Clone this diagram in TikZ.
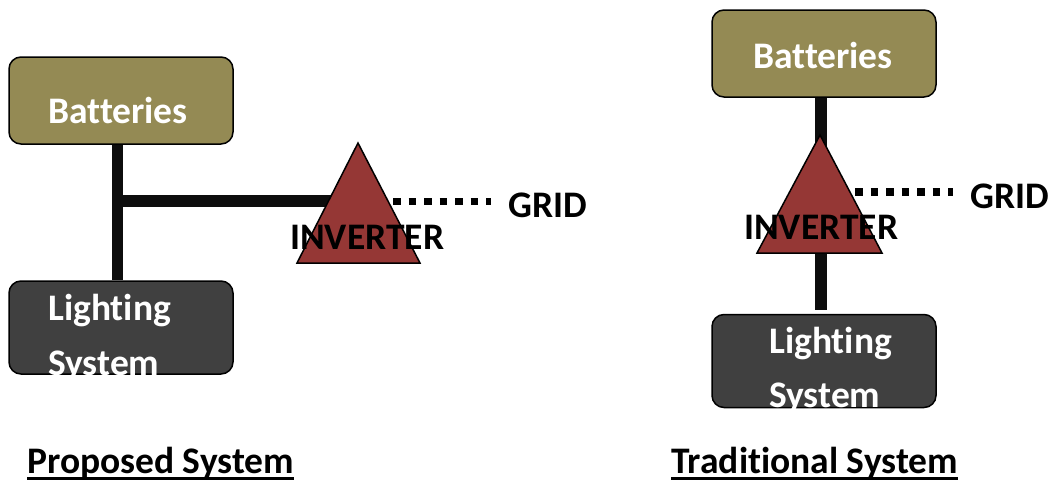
\documentclass[tikz,border=0pt]{standalone}
\usepackage{fontspec}
\setmainfont{Carlito}[Ligatures=NoCommon]
\definecolor{olivefill}{HTML}{948A54}
\definecolor{darkfill}{HTML}{404040}
\definecolor{invfill}{HTML}{953735}
\definecolor{busblack}{HTML}{0D0D0D}
\begin{document}
\begin{tikzpicture}[x=1pt,y=-1pt,
  box/.style={draw=black, line width=1.5pt, rounded corners=12pt, minimum width=224pt, inner sep=0pt},
  battbox/.style={box, fill=olivefill, minimum height=87pt},
  lightbox/.style={box, fill=darkfill, minimum height=93pt},
  wtxt/.style={text=white, font=\fontsize{37.5}{42}\selectfont\bfseries, inner sep=0pt, anchor=base west},
  btxt/.style={text=black, font=\fontsize{37.5}{42}\selectfont\bfseries, inner sep=0pt, anchor=base west},
  bus/.style={line width=11.5pt, draw=busblack},
  gridline/.style={line width=7.5pt, dash pattern=on 7.5pt off 8pt, draw=black},
  inv/.style={fill=invfill, draw=black, line width=1.5pt, line join=miter},
  uline/.style={line width=3pt, draw=black}
]
\useasboundingbox (0,0) rectangle (1049,480);

% ---------------- Proposed system (left) ----------------
\node[battbox] (lb) at (121,100.5) {};
\node[lightbox] (ll) at (121,327.5) {};
\coordinate (lx) at (117.5,0);
\coordinate (lj) at (117.5,201);
\coordinate (lte) at (336,201);
\draw[bus] (lb.south -| lx) -- (ll.north -| lx);
\draw[bus] (lj) -- (lte);
\coordinate (lta) at (358,143);
\coordinate (ltr) at (420,263);
\coordinate (ltl) at (297,263);
\path[inv] (lta) -- (ltr) -- (ltl) -- cycle;
\coordinate (lgs) at (393,201.5);
\coordinate (lge) at (491,201.5);
\draw[gridline] (lgs) -- (lge);
\node[wtxt] (lbt) at (48,123) {Batteries};
\begin{scope}
  \clip[rounded corners=12pt] (ll.north west) rectangle (ll.south east);
  \node[wtxt] (llt1) at (48,320) {Lighting};
  \node[wtxt] (llt2) at (48,375) {System};
\end{scope}
\node[btxt] (linv) at (290,249) {INVERTER};
\node[btxt] (lgrid) at (508,217) {GRID};
\node[btxt] (ps) at (27,473) {Proposed System};
\draw[uline] ([yshift=-5.5pt]ps.base west) -- ([yshift=-5.5pt]ps.base east);

% ---------------- Traditional system (right) ----------------
\node[battbox] (rb) at (824,53.5) {};
\node[lightbox] (rl) at (824,361) {};
\coordinate (rx) at (821,0);
\coordinate (rbe) at (821,310);
\draw[bus] (rb.south -| rx) -- (rbe);
\coordinate (rta) at (820,135);
\coordinate (rtr) at (882,253);
\coordinate (rtl) at (757,253);
\path[inv] (rta) -- (rtr) -- (rtl) -- cycle;
\coordinate (rgs) at (855,192);
\coordinate (rge) at (953,192);
\draw[gridline] (rgs) -- (rge);
\node[wtxt] (rbt) at (753,68) {Batteries};
\begin{scope}
  \clip[rounded corners=12pt] (rl.north west) rectangle (rl.south east);
  \node[wtxt] (rlt1) at (769,353) {Lighting};
  \node[wtxt] (rlt2) at (769,407) {System};
\end{scope}
\node[btxt] (rinv) at (744,239) {INVERTER};
\node[btxt] (rgrid) at (970,208) {GRID};
\node[btxt] (ts) at (671,473) {Traditional System};
\draw[uline] ([yshift=-5.5pt]ts.base west) -- ([yshift=-5.5pt]ts.base east);
\end{tikzpicture}
\end{document}
